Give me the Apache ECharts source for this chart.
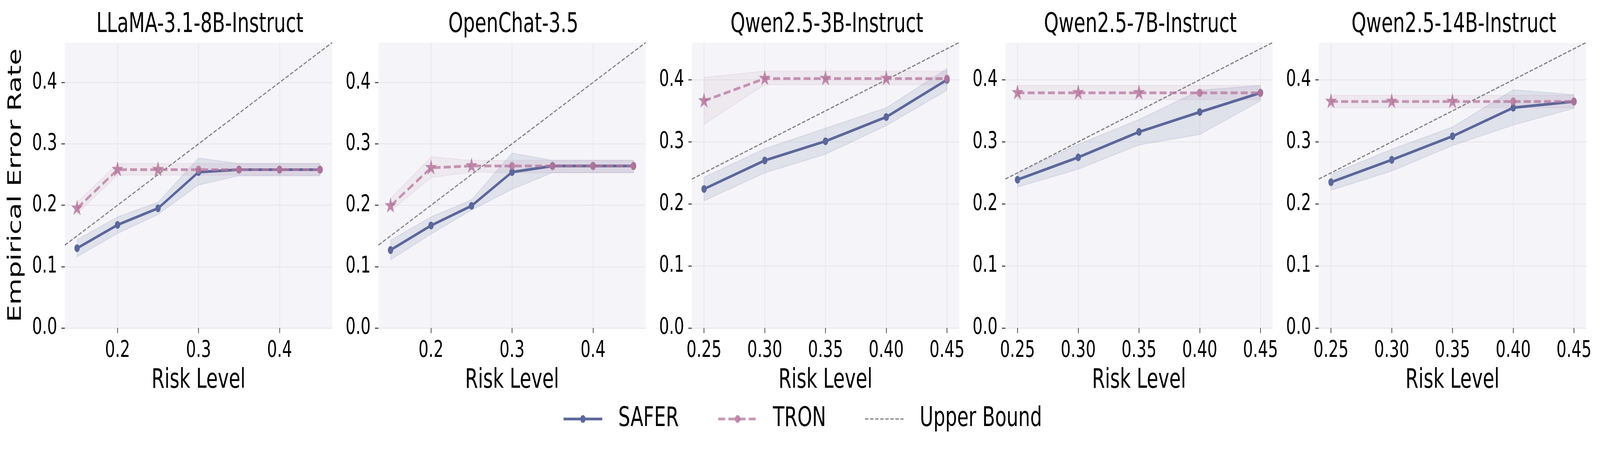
<!DOCTYPE html>
<html>
<head>
<meta charset="utf-8">
<script src="https://cdn.jsdelivr.net/npm/echarts@6/dist/echarts.min.js"></script>
<style>html,body{margin:0;padding:0;background:#fff;overflow:hidden;}#c{width:5992px;height:1178px;transform-origin:0 0;}</style>
</head>
<body>
<div id="c"></div>
<script>
// ---------- data ----------
const titles = ['LLaMA-3.1-8B-Instruct', 'OpenChat-3.5', 'Qwen2.5-3B-Instruct', 'Qwen2.5-7B-Instruct', 'Qwen2.5-14B-Instruct'];
const riskA = [0.15, 0.20, 0.25, 0.30, 0.35, 0.40, 0.45];
const riskB = [0.25, 0.30, 0.35, 0.40, 0.45];
const xTicksA = [0.2, 0.3, 0.4];
const xTicksB = [0.25, 0.30, 0.35, 0.40, 0.45];
const yTicks = [0.0, 0.1, 0.2, 0.3, 0.4];

const llamaSafer   = [0.130, 0.168, 0.195, 0.254, 0.258, 0.258, 0.258];
const llamaSaferLo = [0.116, 0.154, 0.185, 0.233, 0.248, 0.248, 0.248];
const llamaSaferHi = [0.144, 0.181, 0.205, 0.277, 0.268, 0.268, 0.268];
const llamaTron    = [0.195, 0.258, 0.258, 0.258, 0.258, 0.258, 0.258];
const llamaTronLo  = [0.186, 0.249, 0.249, 0.249, 0.249, 0.249, 0.249];
const llamaTronHi  = [0.205, 0.268, 0.268, 0.268, 0.268, 0.268, 0.268];

const ocSafer   = [0.127, 0.167, 0.199, 0.254, 0.264, 0.264, 0.264];
const ocSaferLo = [0.111, 0.153, 0.192, 0.226, 0.253, 0.253, 0.253];
const ocSaferHi = [0.143, 0.181, 0.209, 0.285, 0.273, 0.273, 0.273];
const ocTron    = [0.199, 0.261, 0.264, 0.264, 0.264, 0.264, 0.264];
const ocTronLo  = [0.190, 0.245, 0.254, 0.253, 0.253, 0.253, 0.253];
const ocTronHi  = [0.211, 0.279, 0.273, 0.273, 0.273, 0.273, 0.273];

const q3Safer   = [0.224, 0.270, 0.301, 0.340, 0.400];
const q3SaferLo = [0.205, 0.250, 0.280, 0.326, 0.383];
const q3SaferHi = [0.243, 0.289, 0.322, 0.355, 0.418];
const q3Tron    = [0.366, 0.402, 0.402, 0.402, 0.402];
const q3TronLo  = [0.328, 0.392, 0.392, 0.392, 0.392];
const q3TronHi  = [0.404, 0.414, 0.414, 0.414, 0.414];

const q7Safer   = [0.239, 0.275, 0.316, 0.348, 0.379];
const q7SaferLo = [0.227, 0.256, 0.295, 0.312, 0.366];
const q7SaferHi = [0.250, 0.296, 0.336, 0.383, 0.391];
const q7Tron    = [0.379, 0.379, 0.379, 0.379, 0.379];
const q7TronLo  = [0.368, 0.368, 0.368, 0.368, 0.368];
const q7TronHi  = [0.391, 0.391, 0.391, 0.391, 0.391];

const q14Safer   = [0.235, 0.271, 0.309, 0.355, 0.365];
const q14SaferLo = [0.222, 0.253, 0.294, 0.327, 0.354];
const q14SaferHi = [0.248, 0.288, 0.324, 0.384, 0.376];
const q14Tron    = [0.365, 0.365, 0.365, 0.365, 0.365];
const q14TronLo  = [0.355, 0.355, 0.355, 0.355, 0.355];
const q14TronHi  = [0.375, 0.375, 0.375, 0.375, 0.375];

const xRangeA = [0.135, 0.465];
const xRangeB = [0.24, 0.46];

// ---------- build ----------
const panels = [
  {x: riskA, s: llamaSafer, sl: llamaSaferLo, sh: llamaSaferHi, t: llamaTron, tl: llamaTronLo, th: llamaTronHi, xr: xRangeA, xt: xTicksA, dec: 1},
  {x: riskA, s: ocSafer, sl: ocSaferLo, sh: ocSaferHi, t: ocTron, tl: ocTronLo, th: ocTronHi, xr: xRangeA, xt: xTicksA, dec: 1},
  {x: riskB, s: q3Safer, sl: q3SaferLo, sh: q3SaferHi, t: q3Tron, tl: q3TronLo, th: q3TronHi, xr: xRangeB, xt: xTicksB, dec: 2},
  {x: riskB, s: q7Safer, sl: q7SaferLo, sh: q7SaferHi, t: q7Tron, tl: q7TronLo, th: q7TronHi, xr: xRangeB, xt: xTicksB, dec: 2},
  {x: riskB, s: q14Safer, sl: q14SaferLo, sh: q14SaferHi, t: q14Tron, tl: q14TronLo, th: q14TronHi, xr: xRangeB, xt: xTicksB, dec: 2}
];

const FONT = 'DejaVu Sans';
const SAFER_C = '#5B679A';
const TRON_C = '#B5769C';
const GRID_LEFT0 = 243, GRID_STEP = 1174, GRID_W = 1001, GRID_TOP = 109, GRID_H = 731;

// 5-point star path (tip up), outer radius 100, inner radius 38.2
function starPath() {
  const pts = [];
  for (let k = 0; k < 10; k++) {
    const r = k % 2 === 0 ? 100 : 38.2;
    const a = -Math.PI / 2 + k * Math.PI / 5;
    pts.push((r * Math.cos(a)).toFixed(2) + ',' + (r * Math.sin(a)).toFixed(2));
  }
  return 'path://M' + pts.join(' L') + ' Z';
}
const STAR = starPath();
const STAR_R = 23;

const grids = [], xAxes = [], yAxes = [], series = [], titleArr = [];

function band(i, xs, lo, hi, fill, stroke) {
  return {
    type: 'custom', xAxisIndex: i, yAxisIndex: i, silent: true, z: 1,
    data: [[xs[0], lo[0]]],
    renderItem: function (params, api) {
      const pts = [];
      for (let k = 0; k < xs.length; k++) pts.push(api.coord([xs[k], hi[k]]));
      for (let k = xs.length - 1; k >= 0; k--) pts.push(api.coord([xs[k], lo[k]]));
      return {type: 'polygon', shape: {points: pts}, style: {fill: fill, stroke: stroke, lineWidth: 2.5}};
    }
  };
}

panels.forEach(function (p, i) {
  const left = GRID_LEFT0 + GRID_STEP * i;
  grids.push({left: left, top: GRID_TOP, width: GRID_W, height: GRID_H, show: true,
    backgroundColor: '#F5F5F9', borderWidth: 0, containLabel: false});
  titleArr.push({text: titles[i], left: left + GRID_W / 2, top: 24, textAlign: 'center',
    textStyle: {fontFamily: FONT, fontSize: 70, fontWeight: 'normal', color: '#000', lineHeight: 70}});
  const ymax = p.xr[1];
  xAxes.push({
    type: 'value', gridIndex: i, min: p.xr[0], max: p.xr[1],
    name: 'Risk Level', nameLocation: 'middle', nameGap: 100,
    nameTextStyle: {fontFamily: FONT, fontSize: 70, color: '#000', lineHeight: 70},
    axisLine: {show: false},
    axisTick: {show: true, customValues: p.xt, length: 13, lineStyle: {color: '#333', width: 2.5}},
    axisLabel: {customValues: p.xt, margin: 29, fontFamily: FONT, fontSize: 59, color: '#000', lineHeight: 59,
      formatter: function (v) { return v.toFixed(p.dec); }},
    splitLine: {show: true, lineStyle: {color: '#EAEAEE', width: 3}}
  });
  yAxes.push({
    type: 'value', gridIndex: i, min: 0, max: ymax,
    name: i === 0 ? 'Empirical Error Rate' : '', nameLocation: 'middle', nameGap: 148,
    nameTextStyle: {fontFamily: FONT, fontSize: 70, color: '#000', lineHeight: 70},
    axisLine: {show: false},
    axisTick: {show: true, customValues: yTicks, length: 13, lineStyle: {color: '#333', width: 2.5}},
    axisLabel: {customValues: yTicks, margin: 29, fontFamily: FONT, fontSize: 59, color: '#000',
      formatter: function (v) { return v.toFixed(1); }},
    splitLine: {show: true, lineStyle: {color: '#EAEAEE', width: 3}}
  });

  series.push(band(i, p.x, p.sl, p.sh, 'rgba(91,103,154,0.14)', 'rgba(91,103,154,0.12)'));
  series.push(band(i, p.x, p.tl, p.th, 'rgba(181,118,156,0.10)', 'rgba(181,118,156,0.10)'));

  series.push({
    name: 'Upper Bound', type: 'line', xAxisIndex: i, yAxisIndex: i, z: 2,
    data: [[p.xr[0], p.xr[0]], [p.xr[1], p.xr[1]]],
    symbol: 'none', silent: true,
    lineStyle: {color: '#7F7F82', width: 3.2, type: [13, 6]},
    itemStyle: {color: '#7F7F82'}
  });
  series.push({
    name: 'SAFER', type: 'line', xAxisIndex: i, yAxisIndex: i, z: 3,
    data: p.x.map(function (x, k) { return [x, p.s[k]]; }),
    symbol: 'circle', symbolSize: 20, silent: true,
    lineStyle: {color: SAFER_C, width: 7},
    itemStyle: {color: SAFER_C}
  });
  series.push({
    name: 'TRON', type: 'line', xAxisIndex: i, yAxisIndex: i, z: 4,
    data: p.x.map(function (x, k) {
      const viol = p.t[k] > x + 1e-9;
      return viol
        ? {value: [x, p.t[k]], symbol: STAR, symbolSize: [1.902 * STAR_R, 1.809 * STAR_R], symbolOffset: [0, -0.0955 * STAR_R], symbolKeepAspect: true}
        : {value: [x, p.t[k]], symbol: 'circle', symbolSize: 21};
    }),
    symbol: 'circle', symbolSize: 21, silent: true,
    lineStyle: {color: TRON_C, width: 7, type: [26, 12], opacity: 0.75},
    itemStyle: {color: TRON_C, opacity: 0.85}
  });
});

const el = document.getElementById('c');
// the sandbox viewport may be narrower than the 5992px design width: squeeze horizontally to fit
const sx = Math.min(1, (window.innerWidth || 5992) / 5992);
el.style.transform = 'scaleX(' + sx + ')';

const chart = echarts.init(el, null, {renderer: 'canvas'});
chart.setOption({
  animation: false,
  backgroundColor: '#ffffff',
  title: titleArr,
  grid: grids,
  xAxis: xAxes,
  yAxis: yAxes,
  legend: {
    left: 2107, top: 1038, padding: 0, itemGap: 144, itemWidth: 145, itemHeight: 25,
    selectedMode: false,
    lineStyle: {width: 'inherit'},
    data: ['SAFER', 'TRON', {name: 'Upper Bound', itemStyle: {opacity: 0}}],
    textStyle: {fontFamily: FONT, fontSize: 70, color: '#000', lineHeight: 70, padding: [0, 0, 0, 55]}
  },
  series: series
});
</script>
</body>
</html>
